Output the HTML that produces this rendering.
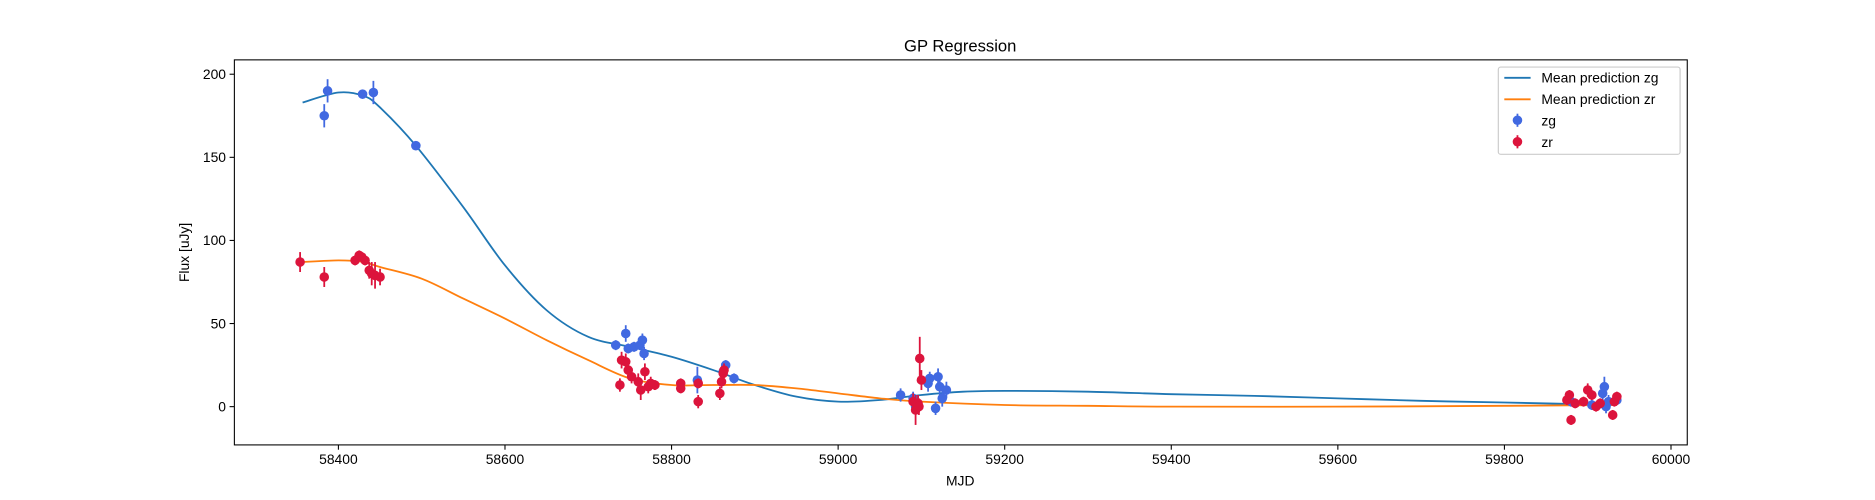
<!DOCTYPE html>
<html><head><meta charset="utf-8"><style>
html,body{margin:0;padding:0;background:#fff;}
svg{display:block;font-family:"Liberation Sans","DejaVu Sans",sans-serif;}
</style></head><body>
<svg id="chart" width="1875" height="500" viewBox="0 0 1568 418" xmlns="http://www.w3.org/2000/svg">
<rect x="0" y="0" width="1568" height="418" fill="#fff"/>
<g id="plot"></g>
<text x="803" y="43" text-anchor="middle" font-size="13.9">GP Regression</text>
<text x="803" y="406" text-anchor="middle" font-size="11.6">MJD</text>
<text x="158" y="211" text-anchor="middle" font-size="11.6" transform="rotate(-90 158 211)">Flux [uJy]</text>
<g>
<rect x="1253" y="56" width="152" height="73" rx="2" fill="#fff" stroke="#ccc" stroke-width="1"/>
<line x1="1258" y1="65" x2="1280" y2="65" stroke="#1f77b4" stroke-width="1.5"/>
<text x="1289" y="69" font-size="11.6">Mean prediction zg</text>
<line x1="1258" y1="83" x2="1280" y2="83" stroke="#ff7f0e" stroke-width="1.5"/>
<text x="1289" y="87" font-size="11.6">Mean prediction zr</text>
<line x1="1269" y1="95" x2="1269" y2="106" stroke="#4169e1" stroke-width="1.5"/>
<circle cx="1269" cy="100.5" r="4" fill="#4169e1"/>
<text x="1289" y="105" font-size="11.6">zg</text>
<line x1="1269" y1="113" x2="1269" y2="124" stroke="#dc143c" stroke-width="1.5"/>
<circle cx="1269" cy="118.5" r="4" fill="#dc143c"/>
<text x="1289" y="123" font-size="11.6">zr</text>
</g>
</svg>
<script>
const xTicks=[58400,58600,58800,59000,59200,59400,59600,59800,60000];
const yTicks=[0,50,100,150,200];
const zgMjd=[58383,58387,58429,58442,58493,58733,58745,58748,58755,58762,58765,58767,58831,58862,58865,58875,59075,59090,59093,59108,59110,59117,59120,59122,59125,59130,59880,59905,59918,59920,59922,59925,59935];
const zgFlux=[175,190,188,189,157,37,44,35,36,37,40,32,16,21,25,17,7,5,0,14,17,-1,18,12,5,10,3,1,8,12,0,3,4];
const zgErr=[7,7,2,7,2,3,5,3,3,3,4,4,8,3,3,3,4,4,4,5,4,4,5,5,5,5,3,3,4,6,4,4,3];
const zrMjd=[58354,58383,58420,58425,58428,58432,58437,58440,58444,58450,58738,58740,58745,58748,58752,58760,58763,58768,58772,58775,58780,58811,58811,58832,58832,58858,58860,58862,58863,59090,59093,59096,59097,59098,59100,59875,59878,59880,59885,59895,59900,59905,59910,59915,59930,59932,59935];
const zrFlux=[87,78,88,91,90,88,82,80,79,78,13,28,27,22,18,15,10,21,12,14,13,14,11,3,14,8,15,20,22,3,-2,2,0,29,16,4,7,-8,2,3,10,7,0,2,-5,3,6];
const zrErr=[6,6,3,3,3,3,5,7,8,5,4,5,5,4,4,5,6,5,4,4,3,3,3,4,3,4,4,4,4,5,9,5,5,13,6,3,3,3,3,3,4,3,3,3,3,3,3];
const gMeanX=[58357,58400,58430,58450,58493,58550,58600,58650,58700,58750,58800,58850,58900,58950,59000,59050,59100,59150,59200,59300,59400,59500,59600,59700,59800,59935];
const gMeanY=[183,189,187,180,157,120,85,58,42,36,30,22,13,6,3,4,7,9,9.5,9,7.5,6.5,5,3.5,2.5,1];
const rMeanX=[58357,58400,58430,58450,58500,58550,58600,58650,58700,58750,58800,58850,58900,58950,59000,59050,59100,59200,59300,59400,59600,59800,59935];
const rMeanY=[87,88,87,84,77,65,53,40,28,17,13,13,13,11,8,5,3,1,0.5,0,0,0.5,1];
const L=196,R=1411,T=50,B=372;
const X=v=>283+(v-58400)*139.3/200;
const Y=v=>340-v*1.39;
const NS="http://www.w3.org/2000/svg";
const g=document.getElementById('plot');
function mk(t,a){const e=document.createElementNS(NS,t);for(const k in a)e.setAttribute(k,a[k]);g.appendChild(e);return e;}
const frame=mk('rect',{x:L,y:T,width:R-L,height:B-T,fill:'none',stroke:'#000','stroke-width':0.9});


xTicks.forEach(t=>{const x=X(t);
const l=mk('line',{x1:x,x2:x,y1:B,y2:B+4,stroke:'#000','stroke-width':0.9});


const s=mk('text',{x:x,y:B+16,'text-anchor':'middle','font-size':11.6});s.textContent=t;

});
yTicks.forEach(t=>{const y=Y(t);
const l=mk('line',{x1:L-4,x2:L,y1:y,y2:y,stroke:'#000','stroke-width':0.9});


const s=mk('text',{x:L-7,y:y+4,'text-anchor':'end','font-size':11.6});s.textContent=t;

});
function smooth(xs,ys){const p=xs.map((x,i)=>[X(x),Y(ys[i])]);let d='M'+p[0][0]+','+p[0][1];
for(let i=0;i<p.length-1;i++){const p0=p[Math.max(0,i-1)],p1=p[i],p2=p[i+1],p3=p[Math.min(p.length-1,i+2)];
d+=' C'+(p1[0]+(p2[0]-p0[0])/6)+','+(p1[1]+(p2[1]-p0[1])/6)+' '+(p2[0]-(p3[0]-p1[0])/6)+','+(p2[1]-(p3[1]-p1[1])/6)+' '+p2[0]+','+p2[1];}return d;}
const lg=mk('path',{d:smooth(gMeanX,gMeanY),fill:'none',stroke:'#1f77b4','stroke-width':1.5});


const lr=mk('path',{d:smooth(rMeanX,rMeanY),fill:'none',stroke:'#ff7f0e','stroke-width':1.5});


function pts(xs,ys,es,c,name){xs.forEach((m,i)=>{const x=X(m);
const e=mk('line',{x1:x,x2:x,y1:Y(ys[i]-es[i]),y2:Y(ys[i]+es[i]),stroke:c,'stroke-width':1.5});


const d=mk('circle',{cx:x,cy:Y(ys[i]),r:4,fill:c});

});}
pts(zgMjd,zgFlux,zgErr,'#4169e1','zg');
pts(zrMjd,zrFlux,zrErr,'#dc143c','zr');
</script>
</body></html>
